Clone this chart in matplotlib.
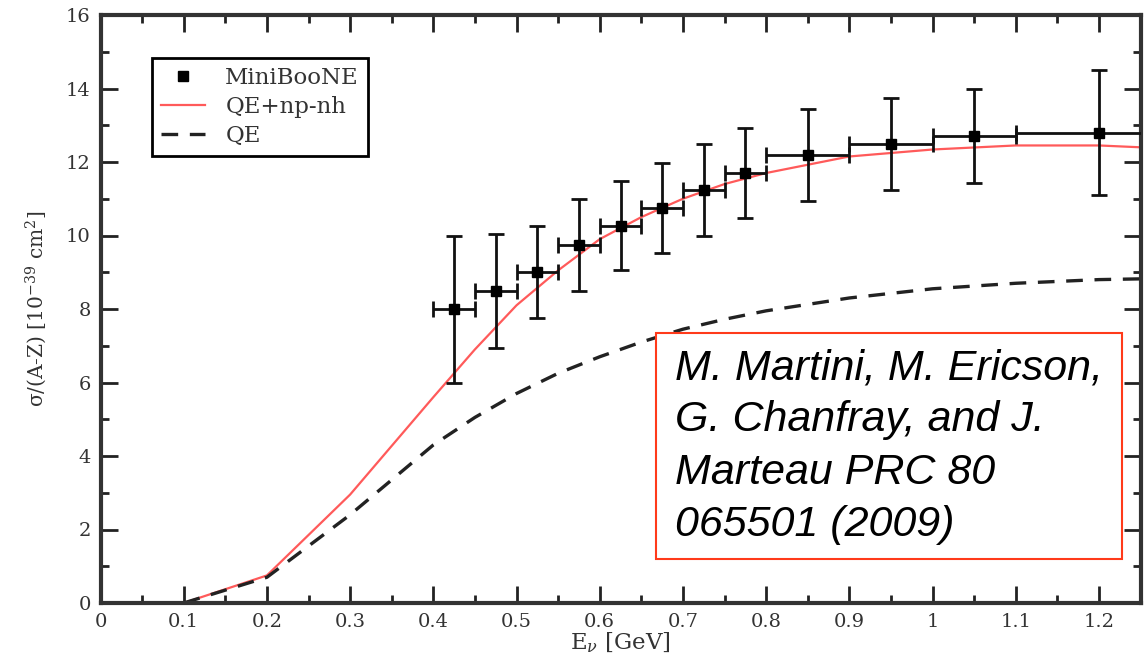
import matplotlib
matplotlib.use("Agg")
import matplotlib.pyplot as plt
from matplotlib.ticker import MultipleLocator
from matplotlib.lines import Line2D
from matplotlib.patches import Rectangle

# MiniBooNE data
e_data = [0.425, 0.475, 0.525, 0.575, 0.625, 0.675, 0.725, 0.775, 0.85, 0.95, 1.05, 1.2]
e_halfwidth = [0.025, 0.025, 0.025, 0.025, 0.025, 0.025, 0.025, 0.025, 0.05, 0.05, 0.05, 0.1]
sigma_data = [8.0, 8.5, 9.0, 9.75, 10.27, 10.75, 11.25, 11.7, 12.2, 12.5, 12.72, 12.8]
sigma_err = [2.0, 1.55, 1.25, 1.25, 1.22, 1.22, 1.25, 1.22, 1.25, 1.25, 1.28, 1.7]

# QE + np-nh curve
e_curve = [0.1, 0.2, 0.3, 0.4, 0.45, 0.5, 0.55, 0.6, 0.65, 0.7, 0.75, 0.8, 0.9, 1.0, 1.1, 1.2, 1.25]
sigma_qe_npnh = [0.0, 0.75, 2.95, 5.6, 6.9, 8.1, 9.05, 9.9, 10.5, 11.0, 11.4, 11.7, 12.15, 12.34, 12.45, 12.45, 12.4]
# QE curve
sigma_qe = [0.0, 0.7, 2.4, 4.3, 5.05, 5.7, 6.25, 6.7, 7.1, 7.45, 7.72, 7.95, 8.3, 8.55, 8.7, 8.8, 8.82]

x_tick_labels = ["0", "0.1", "0.2", "0.3", "0.4", "0.5", "0.6", "0.7", "0.8", "0.9", "1", "1.1", "1.2"]
citation = "M. Martini, M. Ericson,\nG. Chanfray, and J.\nMarteau PRC 80\n065501 (2009)"

serif = ["DejaVu Serif"]
plt.rcParams["mathtext.fontset"] = "dejavuserif"
txtcol = "#333333"

fig = plt.figure(figsize=(11.46, 6.6), dpi=100)
ax = fig.add_axes([100.5 / 1146, 57 / 660, 1040 / 1146, 588 / 660])

ax.plot(e_curve, sigma_qe_npnh, color="#ff5a5a", lw=1.6, zorder=2)
ax.plot(e_curve, sigma_qe, color="#222222", lw=2.4, ls=(0, (5, 3.5)), zorder=2)
ax.errorbar(e_data, sigma_data, yerr=sigma_err, xerr=e_halfwidth, fmt="s", color="black",
            ms=7, ecolor="#111111", elinewidth=2, capsize=6, capthick=2, zorder=3)

ax.set_xlim(0, 1.25)
ax.set_ylim(0, 16)
ax.set_xticks([i / 10 for i in range(13)])
ax.set_xticklabels(x_tick_labels)
ax.xaxis.set_minor_locator(MultipleLocator(0.05))
ax.yaxis.set_major_locator(MultipleLocator(2))
ax.yaxis.set_minor_locator(MultipleLocator(1))
ax.tick_params(which="both", direction="in", top=True, right=True, color="#222222")
ax.tick_params(which="major", length=12, width=2, labelsize=14, pad=7)
ax.tick_params(which="minor", length=6, width=2)
for lbl in ax.get_xticklabels() + ax.get_yticklabels():
    lbl.set_family(serif)
    lbl.set_color(txtcol)
for s in ax.spines.values():
    s.set_linewidth(3)
    s.set_color("#333333")

ax.set_xlabel(r"E$_\nu$ [GeV]", family=serif, fontsize=16.5, color=txtcol, labelpad=0)
ax.set_ylabel("σ/(A-Z) [10$^{-39}$ cm$^{2}$]", family=serif, fontsize=14.5, color=txtcol, labelpad=12)

handles = [Line2D([], [], ls="none", marker="s", ms=7, color="black"),
           Line2D([], [], color="#ff5a5a", lw=1.6),
           Line2D([], [], color="#222222", lw=2.4, ls=(0, (5, 3.5)))]
leg = ax.legend(handles, ["MiniBooNE", "QE+np-nh", "QE"],
                loc="upper left", bbox_to_anchor=(0.0495, 0.927), borderaxespad=0,
                fancybox=False, prop={"family": serif, "size": 16.5},
                handlelength=1.9, handletextpad=0.9, borderpad=0.4,
                labelspacing=0.3, framealpha=1)
leg.get_frame().set_edgecolor("black")
leg.get_frame().set_linewidth(2)
for t in leg.get_texts():
    t.set_color(txtcol)

ax.add_patch(Rectangle((0.534, 0.0748), 0.448, 0.384, transform=ax.transAxes,
                       fc="white", ec="#ff3a1a", lw=1.5, zorder=5))
ax.text(0.5524, 0.433, citation, transform=ax.transAxes, family=["Liberation Sans", "DejaVu Sans"],
        style="italic", fontsize=31, linespacing=1.39, va="top", ha="left", zorder=6)

fig.savefig("out.png", dpi=100)
